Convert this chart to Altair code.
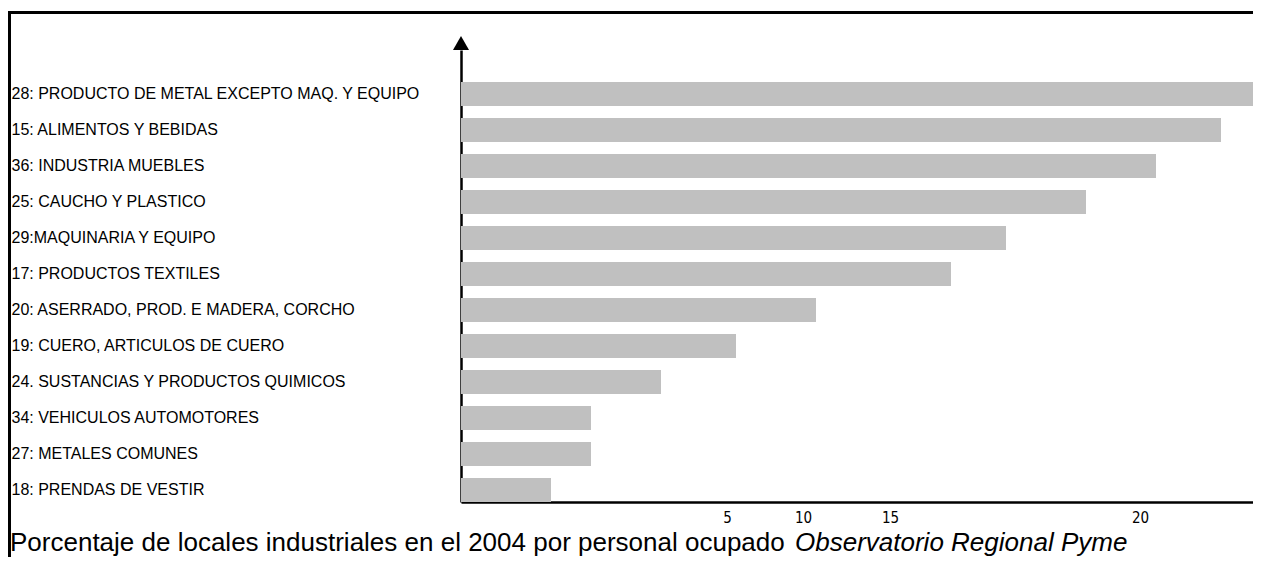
import altair as alt
import pandas as pd

categories = [
    "28: PRODUCTO DE METAL EXCEPTO MAQ. Y EQUIPO",
    "15: ALIMENTOS Y BEBIDAS",
    "36: INDUSTRIA MUEBLES",
    "25: CAUCHO Y PLASTICO",
    "29:MAQUINARIA Y EQUIPO",
    "17: PRODUCTOS TEXTILES",
    "20: ASERRADO, PROD. E MADERA, CORCHO",
    "19: CUERO, ARTICULOS DE CUERO",
    "24. SUSTANCIAS Y PRODUCTOS QUIMICOS",
    "34: VEHICULOS AUTOMOTORES",
    "27: METALES COMUNES",
    "18: PRENDAS DE VESTIR",
]
values = [16.4, 15.2, 13.9, 12.5, 10.9, 9.8, 7.1, 5.5, 4.0, 2.6, 2.6, 1.8]

tick_positions = [5.32, 6.84, 8.58, 13.58]
tick_labels = ["5", "10", "15", "20"]

title_main = "Porcentaje de locales industriales en el 2004 por personal ocupado"
title_source = "Observatorio Regional Pyme"

W, H = 792, 452
x_domain = [0, 15.84]

df = pd.DataFrame({"category": categories, "value": values})

label_expr = " : ".join(
    f"datum.value == {p} ? '{t}'" for p, t in zip(tick_positions, tick_labels)
) + " : ''"

bars = alt.Chart(df).mark_bar(color="#C0C0C0", clip=True).encode(
    x=alt.X("value:Q",
            scale=alt.Scale(domain=x_domain, nice=False, zero=True),
            axis=alt.Axis(values=tick_positions, labelExpr=label_expr,
                          ticks=False, tickSize=0, title=None, grid=False,
                          labelFont="Liberation Sans Narrow, Arial Narrow, DejaVu Sans Condensed, sans-serif",
                          labelFontSize=15, labelColor="black",
                          labelBaseline="middle", labelPadding=15,
                          labelOverlap=False, labelFlush=False,
                          domainColor="black", domainWidth=2.5)),
    y=alt.Y("category:N", sort=categories,
            scale=alt.Scale(paddingInner=1/3, paddingOuter=0.444, align=1),
            axis=alt.Axis(title=None, ticks=False, tickSize=0, grid=False,
                          labelAlign="left", labelBaseline="middle",
                          labelPadding=450, labelFontSize=16,
                          labelFont="Liberation Sans", labelColor="black",
                          labelLimit=0, domainColor="black", domainWidth=2.5)),
)

arrow = alt.Chart(pd.DataFrame({"a": [0]})).mark_point(
    shape="triangle-up", size=256, filled=True, color="black", opacity=1
).encode(x=alt.value(0), y=alt.value(-7))

frame_top = alt.Chart(pd.DataFrame({"a": [0]})).mark_rule(
    color="black", strokeWidth=3
).encode(x=alt.value(-453), x2=alt.value(W), y=alt.value(-37.5))

frame_left = alt.Chart(pd.DataFrame({"a": [0]})).mark_rule(
    color="black", strokeWidth=3
).encode(x=alt.value(-451.5), y=alt.value(-39), y2=alt.value(H + 70))

t_main = alt.Chart(pd.DataFrame({"t": [title_main]})).mark_text(
    font="Liberation Sans", fontSize=26, align="left", baseline="alphabetic",
    color="black",
).encode(x=alt.value(-451), y=alt.value(H + 49), text="t:N")

t_src = alt.Chart(pd.DataFrame({"t": [title_source]})).mark_text(
    font="Liberation Sans", fontSize=26, fontStyle="italic", align="left",
    baseline="alphabetic", color="black",
).encode(x=alt.value(334), y=alt.value(H + 49), text="t:N")

chart = alt.layer(bars, arrow, frame_top, frame_left, t_main, t_src).properties(
    width=W, height=H,
    padding={"left": 453, "top": 42, "right": 0, "bottom": 55},
    autosize="none",
    background="white",
).configure_view(stroke=None)

chart.save("out.html", embed_options={"renderer": "svg", "actions": False})
